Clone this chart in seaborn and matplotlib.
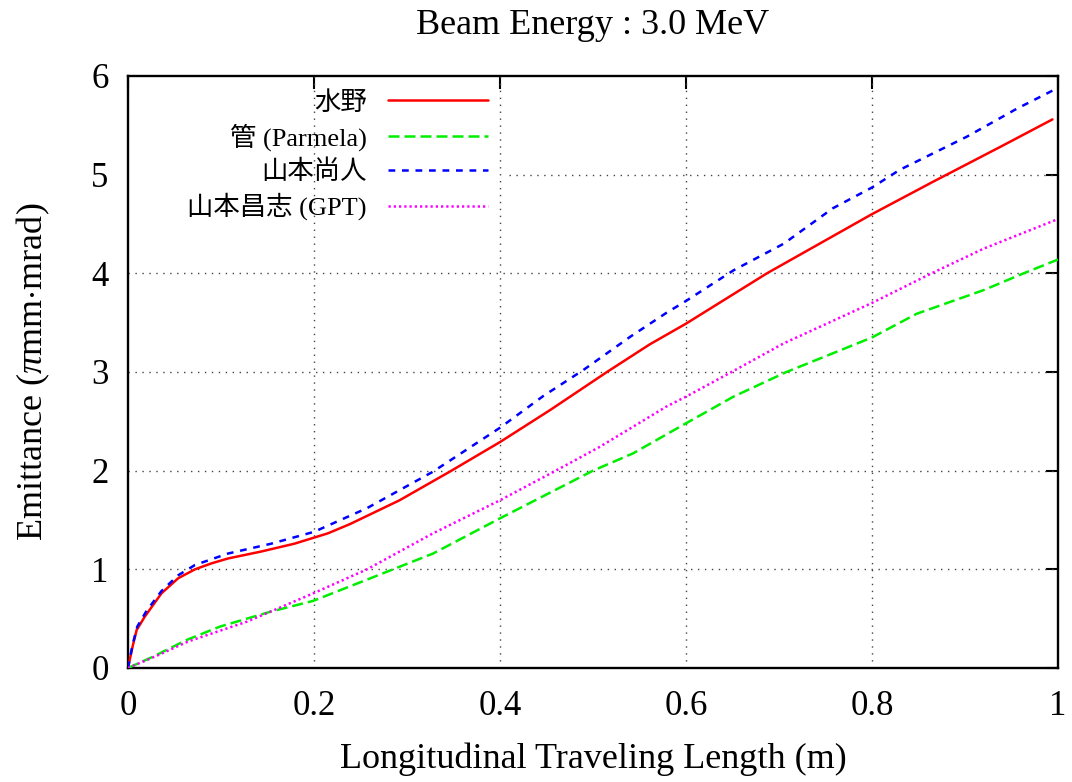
import matplotlib
matplotlib.use('Agg')
import matplotlib.pyplot as plt
import seaborn as sns

# 水野
mizuno_x = [0, 0.005, 0.0093, 0.018, 0.036, 0.054, 0.072, 0.0896, 0.1075,
            0.143, 0.179, 0.215, 0.239, 0.292, 0.346, 0.4, 0.454, 0.515,
            0.561, 0.6, 0.687, 0.8, 0.866, 0.9376, 0.994]
mizuno_y = [0, 0.22, 0.385, 0.52, 0.757, 0.91, 1.0, 1.06, 1.11,
            1.18, 1.26, 1.365, 1.46, 1.70, 1.99, 2.29, 2.615, 3.0,
            3.28, 3.49, 4.0, 4.6, 4.93, 5.28, 5.56]

# 管 (Parmela)
kan_x = [0, 0.027, 0.063, 0.099, 0.153, 0.199, 0.285, 0.328, 0.4, 0.5,
         0.543, 0.6, 0.651, 0.708, 0.758, 0.8, 0.848, 0.92, 0.963, 1.0]
kan_y = [0, 0.115, 0.284, 0.42, 0.57, 0.68, 1.0, 1.16, 1.517, 2.0,
         2.175, 2.48, 2.75, 3.0, 3.19, 3.35, 3.59, 3.83, 4.0, 4.14]

# 山本尚人
naoto_x = [0, 0.005, 0.01, 0.02, 0.036, 0.054, 0.072, 0.1075, 0.154, 0.2,
           0.257, 0.328, 0.4, 0.4466, 0.4896, 0.54, 0.579, 0.6, 0.651,
           0.705, 0.758, 0.8, 0.83, 0.902, 0.956, 1.0]
naoto_y = [0, 0.24, 0.42, 0.58, 0.78, 0.94, 1.044, 1.16, 1.26, 1.38,
           1.62, 1.99, 2.435, 2.757, 3.02, 3.357, 3.60, 3.72, 4.03,
           4.30, 4.66, 4.87, 5.05, 5.385, 5.67, 5.88]

# 山本昌志 (GPT)
masashi_x = [0, 0.03, 0.065, 0.128, 0.2, 0.257, 0.328, 0.4, 0.46, 0.507,
             0.579, 0.6, 0.649, 0.705, 0.8, 0.864, 0.92, 1.0]
masashi_y = [0, 0.12, 0.27, 0.47, 0.76, 1.0, 1.365, 1.70, 2.0, 2.24,
             2.65, 2.75, 3.0, 3.29, 3.70, 4.0, 4.25, 4.55]

x_ticks = [0, 0.2, 0.4, 0.6, 0.8, 1]
x_tick_labels = ['0', '0.2', '0.4', '0.6', '0.8', '1']
y_ticks = [0, 1, 2, 3, 4, 5, 6]

sns.set_theme(style="white", rc={
    "text.color": "black",
    "axes.labelcolor": "black",
    "xtick.color": "black",
    "ytick.color": "black",
})
plt.rcParams['font.family'] = ['Liberation Serif', 'Noto Sans CJK JP']
plt.rcParams['mathtext.fontset'] = 'custom'
plt.rcParams['mathtext.rm'] = 'Liberation Serif'
plt.rcParams['mathtext.it'] = 'Liberation Serif:italic'

fig = plt.figure(figsize=(10.72, 7.82), dpi=100)
ax = fig.add_axes([128 / 1072, 1 - 668 / 782, 930 / 1072, 592 / 782])

series = [
    (mizuno_x, mizuno_y, '水野', '#ff0000', None),
    (kan_x, kan_y, '管 (Parmela)', '#00ee00', (4.4, 2.0)),
    (naoto_x, naoto_y, '山本尚人', '#0000ff', (2.7, 2.7)),
    (masashi_x, masashi_y, '山本昌志 (GPT)', '#ff00ff', (0.9, 1.2)),
]
for xs, ys, name, col, dash in series:
    sns.lineplot(x=xs, y=ys, label=name, color=col, lw=1.8,
                 estimator=None, sort=False, ax=ax, zorder=3)
    if dash is not None:
        ax.lines[-1].set_dashes(dash)

# grid (the key blanks part of the y=5 line)
grid_kw = dict(color='#444444', lw=1.0, linestyle=(0, (1, 4)), zorder=1)
for xv in x_ticks[1:-1]:
    ax.axvline(xv, **grid_kw)
for yv in y_ticks[1:-1]:
    ax.axhline(yv, xmin=0.41 if yv == 5 else 0, **grid_kw)

ax.set_xlim(0, 1)
ax.set_ylim(0, 6)
ax.set_xticks(x_ticks)
ax.set_xticklabels(x_tick_labels)
ax.set_yticks(y_ticks)
ax.tick_params(direction='in', length=9, width=1.5, labelsize=25,
               top=True, right=True)
ax.tick_params(axis='x', pad=16)
ax.tick_params(axis='y', pad=14)
for sp in ax.spines.values():
    sp.set_linewidth(1.7)
    sp.set_color('black')

ax.set_title('Beam Energy : 3.0 MeV', fontsize=26, pad=30)
ax.set_xlabel('Longitudinal Traveling Length (m)', fontsize=26, labelpad=14)
ax.set_ylabel(r'Emittance ($\pi$mm$\cdot$mrad)', fontsize=26, labelpad=28)

ax.legend(loc='upper right', bbox_to_anchor=(0.387, 0.975),
          frameon=False, markerfirst=False, fontsize=19,
          handlelength=3.8, handletextpad=0.8, labelspacing=0.33,
          borderpad=0, borderaxespad=0)

plt.savefig('out.png', dpi=100)
plt.close()
